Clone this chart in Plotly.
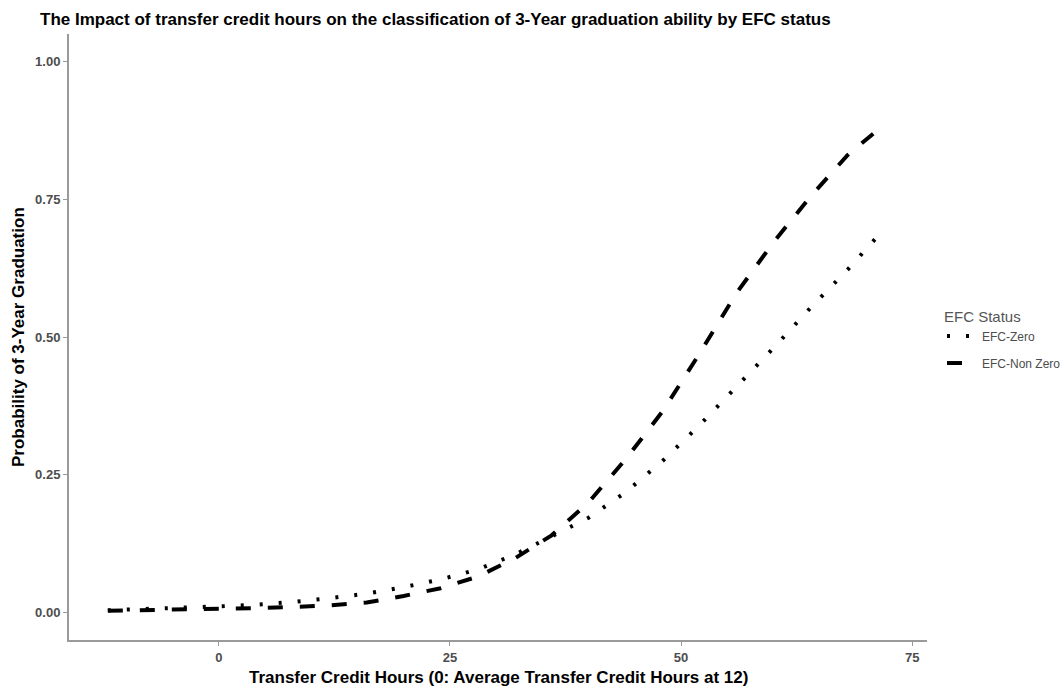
import plotly.graph_objects as go

x_hours = [-12, -8, -4, 0, 4, 8, 12, 16, 20, 24, 28, 32, 36, 40, 44, 48, 52, 56, 60, 64, 68, 71]
efc_zero = [0.004, 0.006, 0.008, 0.011, 0.014, 0.019, 0.026, 0.034, 0.046, 0.060, 0.078, 0.105,
            0.138, 0.172, 0.218, 0.275, 0.340, 0.410, 0.480, 0.553, 0.622, 0.678]
efc_nonzero = [0.003, 0.004, 0.005, 0.006, 0.008, 0.010, 0.013, 0.018, 0.030, 0.044, 0.065, 0.098,
               0.140, 0.200, 0.278, 0.365, 0.470, 0.580, 0.672, 0.755, 0.830, 0.872]
x_ticks = [0, 25, 50, 75]
y_ticks = [0.0, 0.25, 0.5, 0.75, 1.0]
y_tick_text = ["0.00", "0.25", "0.50", "0.75", "1.00"]

FONT = "Liberation Sans, Arial"
W, H = 1064, 688
L, R, T, B = 69, 137, 34, 48
PW, PH = W - L - R, H - T - B

fig = go.Figure()
fig.add_trace(go.Scatter(x=x_hours, y=efc_zero, mode="lines", name="EFC-Zero", legendgroup="a",
                         line=dict(color="black", width=4, dash="3px,16px")))
fig.add_trace(go.Scatter(x=x_hours, y=efc_nonzero, mode="lines", name="EFC-Non Zero", legendgroup="b",
                         line=dict(color="black", width=4, dash="15px,17px")))

axis_common = dict(showgrid=False, zeroline=False, showline=True, linecolor="#9a9a9a",
                   linewidth=2, ticks="outside", tickcolor="#9a9a9a", ticklen=4, tickwidth=1,
                   automargin=False,
                   tickfont=dict(family=FONT, size=13, color="#4d4d4d", weight="bold"))

fig.update_layout(
    width=W, height=H, autosize=False,
    margin=dict(l=L, r=R, t=T, b=B, autoexpand=False),
    paper_bgcolor="white", plot_bgcolor="white",
    title=dict(text="<b>The Impact of transfer credit hours on the classification of 3-Year graduation ability by EFC status</b>",
               x=40 / W, xref="container", xanchor="left",
               y=1 - 19 / H, yref="container", yanchor="middle",
               font=dict(family=FONT, size=17, color="black")),
    xaxis=dict(range=[-16.2, 76.6], tickvals=x_ticks, **axis_common),
    yaxis=dict(range=[-0.05, 1.05], tickvals=y_ticks, ticktext=y_tick_text, **axis_common),
    legend=dict(title=dict(text="EFC Status", font=dict(family=FONT, size=15, color="#555555")),
                font=dict(family=FONT, size=12, color="#4d4d4d"),
                tracegroupgap=8,
                xref="container", x=942 / W, xanchor="left", y=0.495, yanchor="middle",
                bgcolor="rgba(0,0,0,0)"),
    annotations=[
        dict(text="<b>Transfer Credit Hours (0: Average Transfer Credit Hours at 12)</b>",
             xref="paper", yref="paper", x=0.5, y=-(677 - (H - B)) / PH,
             xanchor="center", yanchor="middle", showarrow=False,
             font=dict(family=FONT, size=17, color="black")),
        dict(text="<b>Probability of 3-Year Graduation</b>",
             xref="paper", yref="paper", x=-(L - 18) / PW, y=0.5, textangle=-90,
             xanchor="center", yanchor="middle", showarrow=False,
             font=dict(family=FONT, size=17, color="black")),
    ],
)

fig.write_html("out.html", config={"responsive": False, "displayModeBar": False},
               post_script="document.body.style.margin='0';document.body.style.overflow='hidden';")
